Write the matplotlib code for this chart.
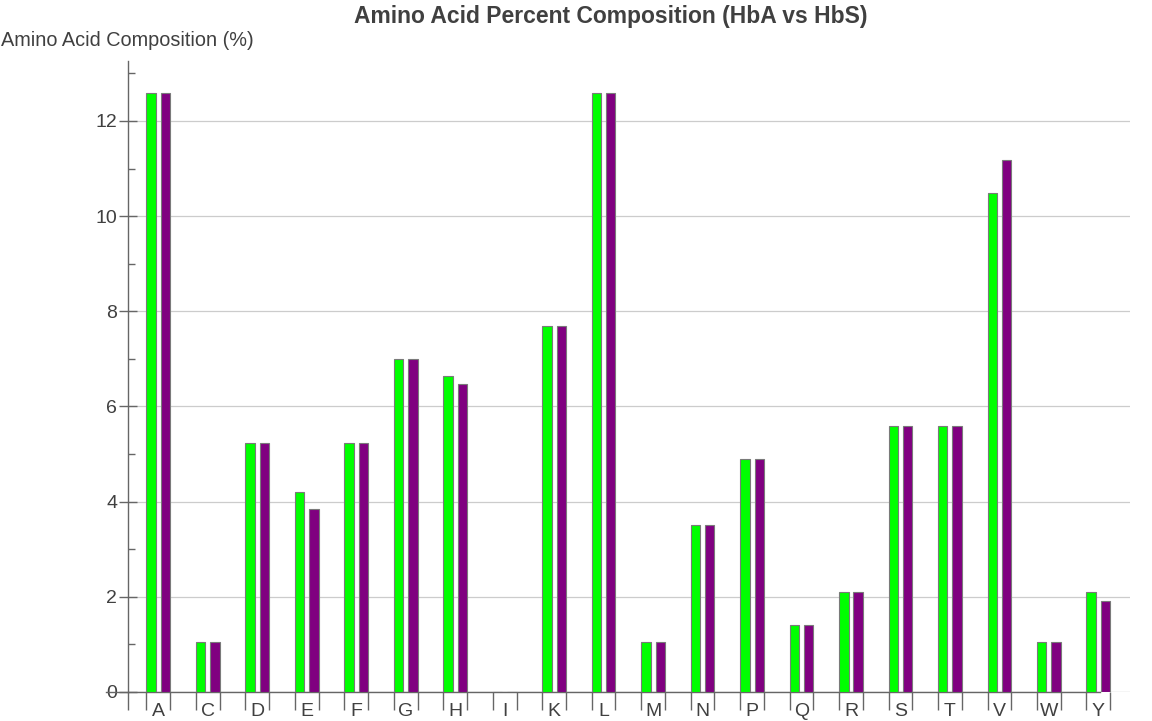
import numpy as np
import matplotlib
matplotlib.use('Agg')
import matplotlib.pyplot as plt
from matplotlib.ticker import MultipleLocator

plt.rcParams.update({
    'font.family': ['Liberation Sans', 'DejaVu Sans'],
    'font.size': 13,
})

amino = ['A', 'C', 'D', 'E', 'F', 'G', 'H', 'I', 'K', 'L',
         'M', 'N', 'P', 'Q', 'R', 'S', 'T', 'V', 'W', 'Y']
hba = [12.59, 1.05, 5.24, 4.20, 5.24, 6.99, 6.64, 0.0, 7.69, 12.59,
       1.05, 3.50, 4.90, 1.40, 2.10, 5.59, 5.59, 10.49, 1.05, 2.10]
hbs = [12.59, 1.05, 5.24, 3.85, 5.24, 6.99, 6.47, 0.0, 7.69, 12.59,
       1.05, 3.50, 4.90, 1.40, 2.10, 5.59, 5.59, 11.19, 1.05, 1.92]

COLORS = {'hba': '#00ff00', 'hbs': '#800080', 'edge': '#7a7a7a',
          'axis': '#666666', 'grid': '#cccccc', 'text': '#404040'}

W, H = 1152, 721
fig = plt.figure(figsize=(W / 100, H / 100), dpi=100)
# axes placed in pixel terms to match the reference frame
ax = fig.add_axes([127.7 / W, 29 / H, (1130 - 127.7) / W, (692 - 61) / H])

x = np.arange(len(amino))
bw = 0.19
ax.bar(x - 0.145, hba, width=bw, color=COLORS['hba'],
       edgecolor=COLORS['edge'], linewidth=0.8, zorder=3)
ax.bar(x + 0.145, hbs, width=bw, color=COLORS['hbs'],
       edgecolor=COLORS['edge'], linewidth=0.8, zorder=3)

ax.set_xlim(-0.62, 19.64)
ax.set_ylim(0, 13.26)

# horizontal gridlines
for g in range(2, 13, 2):
    ax.axhline(g, color=COLORS['grid'], lw=0.9, zorder=1)
ax.axhline(0, color=COLORS['grid'], lw=1.0, zorder=1)

for s in ['top', 'right']:
    ax.spines[s].set_visible(False)
for s in ['left', 'bottom']:
    ax.spines[s].set_color(COLORS['axis'])
    ax.spines[s].set_linewidth(1.0)
ax.spines['bottom'].set_bounds(-1.06, 19.03)

# y ticks: Mathematica-like major/minor
ax.yaxis.set_major_locator(MultipleLocator(2))
ax.yaxis.set_minor_locator(MultipleLocator(1))
ax.tick_params(axis='y', which='major', direction='inout', length=13,
               width=1.0, color=COLORS['axis'], labelcolor=COLORS['text'],
               labelsize=14, pad=1)
ax.tick_params(axis='y', which='minor', direction='in', length=5,
               width=1.0, color=COLORS['axis'])

# x: labels at centers, tick marks at group edges
ax.set_xticks(x)
ax.set_xticklabels(amino)
edges = np.concatenate([[-0.62], x - 0.24, x + 0.24])
ax.set_xticks(edges, minor=True)
ax.tick_params(axis='x', which='major', length=0, pad=8,
               labelcolor=COLORS['text'], labelsize=14)
ax.tick_params(axis='x', which='minor', direction='out', length=13,
               width=1.0, color=COLORS['axis'])

fig.text(611 / W, 1 - 16 / H, 'Amino Acid Percent Composition (HbA vs HbS)',
         ha='center', va='center', fontsize=16.5, fontweight='bold',
         color=COLORS['text'])
fig.text(1 / W, 1 - 40 / H, 'Amino Acid Composition (%)',
         ha='left', va='center', fontsize=14.3, color=COLORS['text'])

fig.savefig('out.png', dpi=100)
plt.close(fig)
